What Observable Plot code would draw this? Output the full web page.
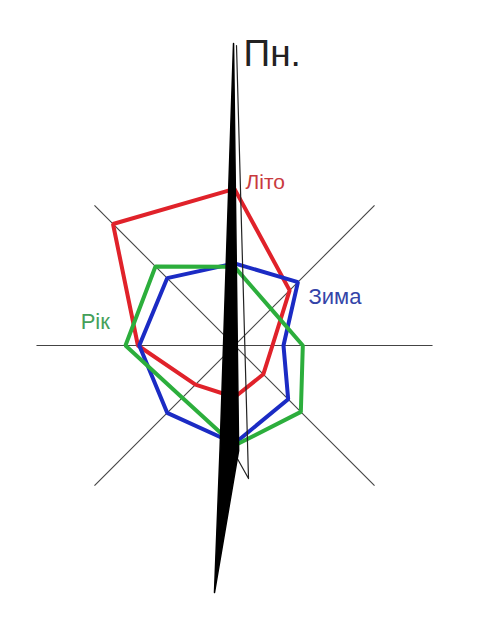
<!DOCTYPE html>
<html>
<head>
<meta charset="utf-8">
<script src="https://cdn.jsdelivr.net/npm/d3@7"></script>
<script src="https://cdn.jsdelivr.net/npm/@observablehq/plot@0.6"></script>
<style>
  html, body { margin: 0; padding: 0; background: #fff; }
  #chart svg { display: block; }
</style>
</head>
<body>
<div id="chart"></div>
<script>
// Directions (clockwise from north) and wind frequencies, %
const directions = ["Пн.", "Пн.-Сх.", "Сх.", "Пд.-Сх.", "Пд.", "Пд.-Зх.", "Зх.", "Пн.-Зх."];
const angles = [0, 45, 90, 135, 180, 225, 270, 315];
const summer = [22.7, 11.3, 5.5, 5.9, 7.5, 8, 14, 24.9];   // Літо
const winter = [11.9, 13, 7.1, 11, 14.2, 13.8, 13.8, 13.8]; // Зима
const year   = [11.4, 7.5, 9.9, 13.6, 14.5, 10.7, 15.8, 16.2]; // Рік
const seriesNames = ["Літо", "Зима", "Рік"];
const axisLength = 28.7;

// North arrow (in the same units as the frequencies)
const needleX = [-0.14, 0.6, -2.9, -2.1];
const needleY = [43.77, -15.22, -35.8, -15.22];
const outlineX = [0.29, 2.03, 0];
const outlineY = [43.48, -19.28, -15.65];

const rad = d => d * Math.PI / 180;
const toPoints = (vals, name) => vals.map((v, i) => ({
  series: name, dir: directions[i],
  x: v * Math.sin(rad(angles[i])), y: v * Math.cos(rad(angles[i]))
}));
const pts = {
  "Літо": toPoints(summer, "Літо"),
  "Зима": toPoints(winter, "Зима"),
  "Рік": toPoints(year, "Рік")
};

// axis lines: E-W and two diagonals
const axisAngles = [90, 45, 135];
const axes = axisAngles.map(a => ({
  x1: -axisLength * Math.sin(rad(a)), y1: -axisLength * Math.cos(rad(a)),
  x2: axisLength * Math.sin(rad(a)), y2: axisLength * Math.cos(rad(a))
}));

const needle = needleX.map((x, i) => ({x, y: needleY[i]}));
const outline = outlineX.map((x, i) => ({x, y: outlineY[i]}));

const k = 6.9; // px per unit
const W = 500, H = 626, cx = 234, cy = 345;
const font = "'Liberation Sans', Arial, sans-serif";

const colors = {"Літо": "#e0222a", "Зима": "#1b2bc4", "Рік": "#2cae3c"};
const textColors = {"Літо": "#c93a3e", "Зима": "#3444a8", "Рік": "#45a05a"};

const chart = Plot.plot({
  width: W, height: H,
  margin: 0,
  style: {background: "#fff", fontFamily: font},
  x: {domain: [-cx / k, (W - cx) / k], axis: null},
  y: {domain: [-(H - cy) / k, cy / k], axis: null},
  marks: [
    Plot.link(axes, {x1: "x1", y1: "y1", x2: "x2", y2: "y2", stroke: "#444", strokeWidth: 1.1}),
    ...seriesNames.map(s => Plot.line(pts[s], {
      x: "x", y: "y", curve: "linear-closed",
      stroke: colors[s], strokeWidth: 4, strokeLinejoin: "miter"
    })),
    Plot.line(outline, {x: "x", y: "y", stroke: "#222", strokeWidth: 1.2}),
    Plot.line(needle, {x: "x", y: "y", curve: "linear-closed", fill: "#000", stroke: "#000", strokeWidth: 1.5}),
    // labels anchored to data vertices
    Plot.text([pts["Літо"][0]], {x: "x", y: "y", text: d => d.series, textAnchor: "start",
      dx: 11, dy: -6.7, fontSize: 21, fill: textColors["Літо"], fontFamily: font}),
    Plot.text([pts["Зима"][1]], {x: "x", y: "y", text: d => d.series, textAnchor: "start",
      dx: 10.5, dy: 14.4, fontSize: 22, fill: textColors["Зима"], fontFamily: font}),
    Plot.text([pts["Рік"][6]], {x: "x", y: "y", text: d => d.series, textAnchor: "end",
      dx: -15.6, dy: -24, fontSize: 22, fill: textColors["Рік"], fontFamily: font}),
    Plot.text([needle[0]], {x: "x", y: "y", text: () => directions[0], textAnchor: "start",
      dx: 10, dy: 10.2, fontSize: 37, fill: "#222", fontFamily: font})
  ]
});
document.getElementById("chart").appendChild(chart);
</script>
</body>
</html>
